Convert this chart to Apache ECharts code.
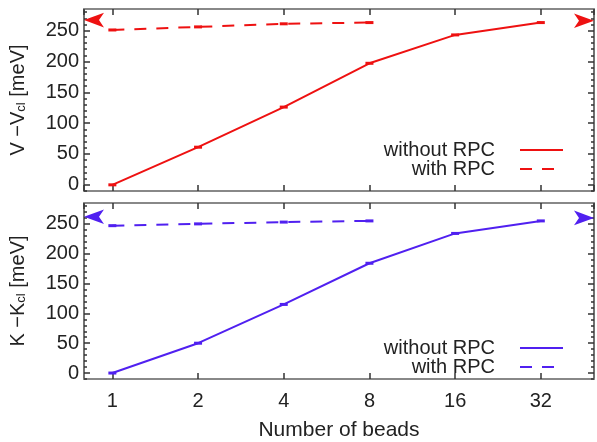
<!DOCTYPE html>
<html><head><meta charset="utf-8">
<script src="https://cdn.jsdelivr.net/npm/echarts@6/dist/echarts.min.js"></script>
<style>html,body{margin:0;padding:0;background:#fff}#c{width:597px;height:442px}</style>
</head><body><div id="c"></div>
<script>
// ---- data ----
const beads = [1, 2, 4, 8, 16, 32];
const rpcBeads = [1, 2, 4, 8];
const vWithout = [0, 61, 126, 197, 243, 263];
const vWith = [251, 256, 261, 263];
const kWithout = [0, 50, 115, 184, 234, 255];
const kWith = [247, 250, 253, 255];
const vLimits = [267, 266];   // [left arrow, right arrow]
const kLimits = [262, 260];
const yTicks = [0, 50, 100, 150, 200, 250];
const yMinorTicks = [-10, 0, 10, 20, 30, 40, 50, 60, 70, 80, 90, 100, 110, 120, 130, 140, 150, 160, 170, 180, 190, 200, 210, 220, 230, 240, 250, 260, 270, 280];
const xRange = [0.795, 49.2];
const yRange = [-10, 285];

const FONT = 'Liberation Sans, Arial, Helvetica, sans-serif';
const RED = '#ee1111';
const BLUE = '#5020f0';
const TXT = '#222';
const FS = 20;

const grids = [
  {left: 81, top: 9, width: 513, height: 182},
  {left: 81, top: 203, width: 513, height: 181}
];

function xAxes(g, withLabels) {
  const base = {
    type: 'log', logBase: 2, gridIndex: g, min: xRange[0], max: xRange[1],
    splitLine: {show: false},
    axisLine: {show: true, onZero: false, lineStyle: {color: '#888', width: 2}},
    axisTick: {show: true, inside: true, length: 6, lineStyle: {color: '#333', width: 1.5}},
    minorTick: {show: false}
  };
  return [
    Object.assign({}, base, {
      position: 'bottom',
      axisLabel: withLabels ? {show: true, showMinLabel: false, showMaxLabel: false, fontSize: FS, fontFamily: FONT, color: TXT, margin: 12} : {show: false},
      name: withLabels ? 'Number of beads' : '',
      nameLocation: 'middle', nameGap: 41,
      nameTextStyle: {fontSize: 21, fontFamily: FONT, color: TXT}
    }),
    Object.assign({}, base, {position: 'top', axisLabel: {show: false}})
  ];
}

function yAxes(g, letter) {
  const base = {type: 'value', gridIndex: g, min: yRange[0], max: yRange[1], splitLine: {show: false}};
  return [
    Object.assign({}, base, {
      position: 'left',
      axisLine: {show: true, onZero: false, lineStyle: {color: '#444', width: 1.5}},
      axisTick: {show: true, inside: true, length: 6, customValues: yTicks, lineStyle: {color: '#333', width: 1.5}},
      axisLabel: {show: true, customValues: yTicks, fontSize: FS, fontFamily: FONT, color: TXT, margin: 5},
      name: '{n|' + letter + ' −' + letter + '}{s|cl}{n| [meV]}',
      nameLocation: 'middle', nameRotate: 90, nameGap: 56,
      nameTextStyle: {
        rich: {
          n: {fontSize: FS, fontFamily: FONT, color: TXT, lineHeight: 20},
          s: {fontSize: 13, fontFamily: FONT, color: TXT, lineHeight: 9, verticalAlign: 'bottom'}
        }
      }
    }),
    Object.assign({}, base, {
      position: 'right',
      axisLine: {show: true, onZero: false, lineStyle: {color: '#444', width: 1.5}},
      axisTick: {show: true, inside: true, length: 6, customValues: yTicks, lineStyle: {color: '#333', width: 1.5}},
      axisLabel: {show: false}
    }),
    Object.assign({}, base, {
      position: 'left',
      axisLine: {show: false, onZero: false},
      axisTick: {show: true, inside: true, length: 3, customValues: yMinorTicks, lineStyle: {color: '#333', width: 1.5}},
      axisLabel: {show: false}
    }),
    Object.assign({}, base, {
      position: 'right',
      axisLine: {show: false, onZero: false},
      axisTick: {show: true, inside: true, length: 3, customValues: yMinorTicks, lineStyle: {color: '#333', width: 1.5}},
      axisLabel: {show: false}
    })
  ];
}

function zip(xs, ys) { return xs.map((x, i) => [x, ys[i]]); }

function panelSeries(g, color, without, withR, limits, prefix) {
  const xi = g * 2, yi = g * 4;
  return [
    {name: prefix + 'without RPC', type: 'line', xAxisIndex: xi, yAxisIndex: yi, data: zip(beads, without),
      showSymbol: false, symbol: 'none', lineStyle: {color: color, width: 2}, itemStyle: {color: color}, z: 3},
    {name: prefix + 'with RPC', type: 'line', xAxisIndex: xi, yAxisIndex: yi, data: zip(rpcBeads, withR),
      showSymbol: false, symbol: 'none', lineStyle: {color: color, width: 2, type: [12, 10]}, itemStyle: {color: color}, z: 3},
    {type: 'scatter', xAxisIndex: xi, yAxisIndex: yi, data: zip(beads, without).concat(zip(rpcBeads, withR)),
      symbol: 'rect', symbolSize: [8, 3], itemStyle: {color: color, opacity: 1}, silent: true, z: 4},
    {type: 'scatter', xAxisIndex: xi, yAxisIndex: yi, data: [[xRange[0], limits[0]]],
      symbol: 'arrow', symbolSize: [11, 20], symbolRotate: 90, symbolOffset: [0, 0],
      itemStyle: {color: color, opacity: 1}, silent: true, clip: false, z: 5},
    {type: 'scatter', xAxisIndex: xi, yAxisIndex: yi, data: [[xRange[1], limits[1]]],
      symbol: 'arrow', symbolSize: [11, 20], symbolRotate: -90, symbolOffset: [0, 0],
      itemStyle: {color: color, opacity: 1}, silent: true, clip: false, z: 5}
  ];
}

const legendBase = {
  orient: 'vertical', align: 'right', itemWidth: 43, itemHeight: 14, itemGap: -1,
  itemStyle: {opacity: 0},
  textStyle: {fontSize: FS, fontFamily: FONT, color: TXT, lineHeight: 16, padding: [0, 20, 0, 0]},
  selectedMode: false
};

const chart = echarts.init(document.getElementById('c'), null, {renderer: 'canvas'});
chart.setOption({
  animation: false,
  backgroundColor: '#fff',
  grid: grids,
  xAxis: xAxes(0, false).concat(xAxes(1, true)),
  yAxis: yAxes(0, 'V').concat(yAxes(1, 'K')),
  legend: [
    Object.assign({}, legendBase, {right: 28, top: 135, data: ['without RPC', 'with RPC']}),
    Object.assign({}, legendBase, {right: 28, top: 333, data: ['K without RPC', 'K with RPC'],
      formatter: n => n.replace(/^K /, '')})
  ],
  series: panelSeries(0, RED, vWithout, vWith, vLimits, '').concat(panelSeries(1, BLUE, kWithout, kWith, kLimits, 'K '))
});
</script></body></html>
